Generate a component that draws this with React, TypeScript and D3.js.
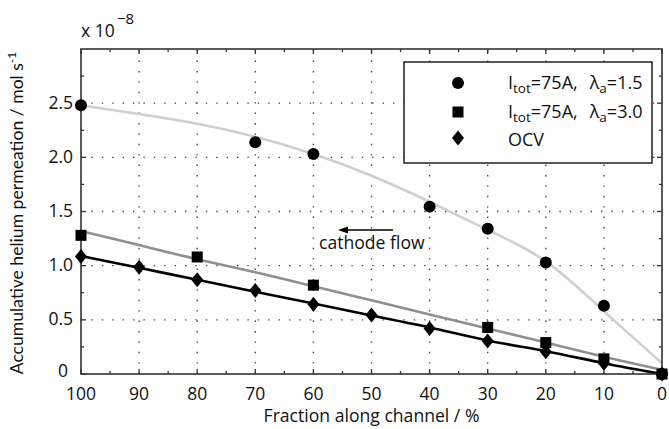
import React from 'react';
import * as d3 from 'd3';

const xTicks = [100, 90, 80, 70, 60, 50, 40, 30, 20, 10, 0];
const xMinor = [95, 85, 75, 65, 55, 45, 35, 25, 15, 5];
const yTicks = [0, 0.5, 1.0, 1.5, 2.0, 2.5];
const yTickLabels = ['0', '0.5', '1.0', '1.5', '2.0', '2.5'];
const yMinor = [0.25, 0.75, 1.25, 1.75, 2.25, 2.75];

const circleX = [100, 70, 60, 40, 30, 20, 10, 0];
const circleY = [2.48, 2.14, 2.03, 1.545, 1.34, 1.03, 0.63, 0];
const squareX = [100, 80, 60, 30, 20, 10, 0];
const squareY = [1.28, 1.08, 0.82, 0.43, 0.29, 0.14, 0];
const diamondX = [100, 90, 80, 70, 60, 50, 40, 30, 20, 10, 0];
const diamondY = [1.085, 0.985, 0.87, 0.77, 0.645, 0.545, 0.42, 0.305, 0.205, 0.1, 0];

const fitX = [100, 90, 80, 70, 60, 50, 40, 30, 20, 10, 0];
const fitCircle = [2.48, 2.4, 2.31, 2.19, 2.03, 1.83, 1.59, 1.33, 1.04, 0.58, 0.1];
const fitSquare = [1.32, 1.19, 1.06, 0.94, 0.81, 0.68, 0.55, 0.42, 0.29, 0.16, 0.04];
const fitDiamond = [1.09, 0.98, 0.87, 0.76, 0.65, 0.54, 0.43, 0.31, 0.21, 0.1, 0.0];

const W = 669;
const H = 429;
const L = 81, R = 662, T = 49, B = 374;
const FONT = '"Open Sans", "Noto Sans", sans-serif';
const YFONT = 'Lato, "Open Sans", sans-serif';

export default function App() {
  const x = d3.scaleLinear().domain([100, 0]).range([L, R]);
  const y = d3.scaleLinear().domain([0, 3]).range([B, T]);
  const line = d3
    .line<[number, number]>()
    .x((d) => x(d[0]))
    .y((d) => y(d[1]))
    .curve(d3.curveNatural);
  const pts = (xs: number[], ys: number[]) => xs.map((v, i) => [v, ys[i]] as [number, number]);

  const diamond = (cx: number, cy: number, w = 6, h = 7.5) =>
    `M${cx},${cy - h}L${cx + w},${cy}L${cx},${cy + h}L${cx - w},${cy}Z`;

  const legRows = [
    { y: 83, kind: 'c', val: '1.5' },
    { y: 112, kind: 's', val: '3.0' },
    { y: 138, kind: 'd', val: '' },
  ];

  return (
    <svg width={W} height={H} style={{ position: 'absolute', left: 0, top: 0, background: '#fff' }} fontFamily={FONT}>
      <rect x={0} y={0} width={W} height={H} fill="#fff" />
      {/* grid */}
      <g stroke="#444" strokeWidth={1.4} strokeDasharray="1.4 9">
        {xTicks.filter((t) => t !== 100 && t !== 0).map((t) => (
          <line key={'gx' + t} x1={x(t)} x2={x(t)} y1={B} y2={T} />
        ))}
        {yTicks.filter((t) => t !== 0).map((t) => (
          <line key={'gy' + t} x1={L} x2={R} y1={y(t)} y2={y(t)} />
        ))}
      </g>
      {/* fit lines */}
      <path d={line(pts(fitX, fitCircle)) || ''} fill="none" stroke="#cfcfcf" strokeWidth={2.6} />
      <path d={line(pts(fitX, fitSquare)) || ''} fill="none" stroke="#8f8f8f" strokeWidth={2.6} />
      <path d={line(pts(fitX, fitDiamond)) || ''} fill="none" stroke="#000" strokeWidth={2.6} />
      {/* frame */}
      <rect x={L} y={T} width={R - L} height={B - T} fill="none" stroke="#333" strokeWidth={1.6} />
      {/* ticks */}
      <g stroke="#333" strokeWidth={1.3}>
        {xTicks.map((t) => (
          <g key={'tx' + t}>
            <line x1={x(t)} x2={x(t)} y1={B} y2={B - 5} />
            <line x1={x(t)} x2={x(t)} y1={T} y2={T + 5} />
          </g>
        ))}
        {xMinor.map((t) => (
          <g key={'mx' + t}>
            <line x1={x(t)} x2={x(t)} y1={B} y2={B - 3} />
            <line x1={x(t)} x2={x(t)} y1={T} y2={T + 3} />
          </g>
        ))}
        {yTicks.map((t) => (
          <g key={'ty' + t}>
            <line x1={L} x2={L + 5} y1={y(t)} y2={y(t)} />
            <line x1={R} x2={R - 5} y1={y(t)} y2={y(t)} />
          </g>
        ))}
        {yMinor.map((t) => (
          <g key={'my' + t}>
            <line x1={L} x2={L + 3} y1={y(t)} y2={y(t)} />
            <line x1={R} x2={R - 3} y1={y(t)} y2={y(t)} />
          </g>
        ))}
      </g>
      {/* markers */}
      <g fill="#000">
        {circleX.map((v, i) => (
          <circle key={'c' + i} cx={x(v)} cy={y(circleY[i])} r={6} />
        ))}
        {squareX.map((v, i) => (
          <rect key={'s' + i} x={x(v) - 5.5} y={y(squareY[i]) - 5.5} width={11} height={11} />
        ))}
        {diamondX.map((v, i) => (
          <path key={'d' + i} d={diamond(x(v), y(diamondY[i]))} />
        ))}
      </g>
      {/* tick labels */}
      <g fontSize={17.5} fill="#111">
        {xTicks.map((t) => (
          <text key={'lx' + t} x={x(t)} y={400} textAnchor="middle">
            {t}
          </text>
        ))}
        {yTicks.map((t, i) => (
          <text key={'ly' + t} x={t === 0 ? 68 : 73} y={y(t) + (t === 0 ? 3 : 5.5)} textAnchor="end">
            {yTickLabels[i]}
          </text>
        ))}
      </g>
      {/* exponent */}
      <text x={81} y={37} fontSize={17.5} fill="#111">x 10</text>
      <text x={117} y={24} fontSize={15} fill="#111">−8</text>
      {/* axis titles */}
      <text x={(L + R) / 2} y={422} fontSize={17.6} textAnchor="middle" fill="#111">
        Fraction along channel / %
      </text>
      <text transform={`translate(23,213) rotate(-90)`} fontFamily={YFONT} fontSize={17.6} textAnchor="middle" fill="#111">
        Accumulative helium permeation / mol s<tspan dy={-7} fontSize={12}>-1</tspan>
      </text>
      {/* annotation */}
      <line x1={393} x2={346} y1={230} y2={230} stroke="#000" strokeWidth={1.5} />
      <path d="M338,230L348,226.5L348,233.5Z" fill="#000" />
      <text x={319} y={249} fontSize={17.6} fill="#111">cathode flow</text>
      {/* legend */}
      <rect x={404} y={62} width={248} height={101} fill="#fff" stroke="#222" strokeWidth={1.5} />
      {legRows.map((r, i) => (
        <g key={'leg' + i}>
          {r.kind === 'c' && <circle cx={458} cy={r.y} r={6} fill="#000" />}
          {r.kind === 's' && <rect x={452.5} y={r.y - 5.5} width={11} height={11} fill="#000" />}
          {r.kind === 'd' && <path d={diamond(458, r.y)} fill="#000" />}
          {r.kind !== 'd' ? (
            <text x={508} y={r.y + 6} fontSize={18} fill="#111">
              I<tspan dy={4} fontSize={13.5}>tot</tspan>
              <tspan dy={-4}>=75A,</tspan>
              <tspan dx={12}>λ</tspan>
              <tspan dy={4} fontSize={13.5}>a</tspan>
              <tspan dy={-4}>={r.val}</tspan>
            </text>
          ) : (
            <text x={508} y={r.y + 7.5} fontSize={18} fill="#111">OCV</text>
          )}
        </g>
      ))}
    </svg>
  );
}
